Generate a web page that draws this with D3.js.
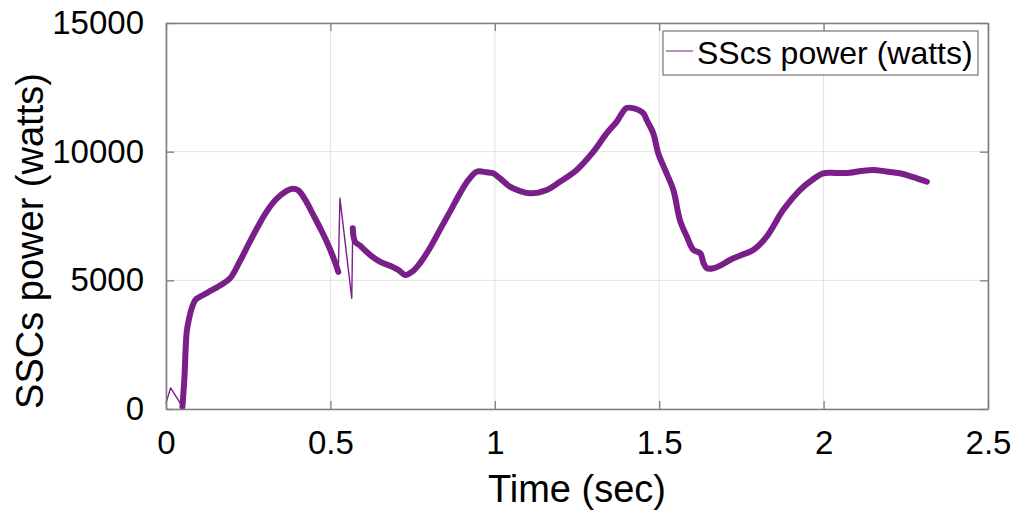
<!DOCTYPE html>
<html>
<head>
<meta charset="utf-8">
<script src="https://cdn.jsdelivr.net/npm/d3@7"></script>
<style>
  html, body { margin: 0; padding: 0; background: #fff; }
  svg { display: block; font-family: "Liberation Sans", Arial, sans-serif; }
</style>
</head>
<body>
<svg id="chart" width="1018" height="517"></svg>
<script>
// ---- data ----
const timeSec = [0, 0.014, 0.05, 0.056, 0.063, 0.07, 0.078, 0.09, 0.103, 0.13, 0.164, 0.195,
  0.225, 0.255, 0.28, 0.306, 0.335, 0.367, 0.385, 0.402, 0.425, 0.448, 0.47, 0.489, 0.51, 0.524,
  0.529, 0.565, 0.568, 0.575, 0.59, 0.61, 0.635, 0.661, 0.685, 0.707, 0.727, 0.75, 0.772, 0.80,
  0.833, 0.865, 0.894, 0.92, 0.945, 0.975, 0.995, 1.016, 1.046, 1.075, 1.107, 1.158, 1.198, 1.249,
  1.30, 1.34, 1.371, 1.40, 1.42, 1.452, 1.462, 1.482, 1.497, 1.518, 1.543, 1.563, 1.584, 1.604,
  1.625, 1.635, 1.645, 1.665, 1.69, 1.715, 1.75, 1.786, 1.827, 1.877, 1.928, 1.965, 1.999, 2.04,
  2.08, 2.115, 2.151, 2.19, 2.232, 2.27, 2.314];
const powerW = [230, 820, 90, 1200, 3000, 3500, 3910, 4250, 4360, 4550, 4800, 5080,
  5750, 6500, 7100, 7670, 8150, 8480, 8560, 8500, 8100, 7540, 7000, 6500, 5850, 5330,
  8190, 4300, 7020, 6500, 6350, 6110, 5850, 5660, 5550, 5400, 5210, 5350, 5660, 6200,
  6960, 7700, 8380, 8900, 9220, 9200, 9160, 8960, 8640, 8480, 8380, 8510, 8830, 9290,
  10000, 10710, 11170, 11690, 11690, 11490, 11230, 10710, 9940, 9290, 8510, 7340, 6700, 6180,
  6050, 5660, 5470, 5470, 5600, 5790, 5980, 6180, 6700, 7730, 8510, 8900, 9160, 9170,
  9180, 9250, 9290, 9230, 9160, 9020, 8830];
const xTicks = [0, 0.5, 1, 1.5, 2, 2.5];
const xTickLabels = ["0", "0.5", "1", "1.5", "2", "2.5"];
const yTicks = [0, 5000, 10000, 15000];
const yTickLabels = ["0", "5000", "10000", "15000"];
const seriesName = "SScs power (watts)";
const xTitle = "Time (sec)";
const yTitle = "SSCs power (watts)";

// ---- layout ----
const L = 166, R = 988, T = 23, B = 409;
const lineColor = "#7a1f89";
const axisColor = "#7f7f7f";
const gridColor = "#e2e2e2";

const svg = d3.select("#chart");
const x = d3.scaleLinear().domain([0, 2.5]).range([L, R]);
const y = d3.scaleLinear().domain([0, 15000]).range([B, T]);

const data = timeSec.map((t, i) => ({ t, p: powerW[i] }));

// grid
const g = svg.append("g");
g.selectAll(".gx").data(xTicks).join("line")
  .attr("x1", d => x(d)).attr("x2", d => x(d)).attr("y1", T).attr("y2", B)
  .attr("stroke", gridColor).attr("stroke-width", 1);
g.selectAll(".gy").data(yTicks).join("line")
  .attr("x1", L).attr("x2", R).attr("y1", d => y(d)).attr("y2", d => y(d))
  .attr("stroke", gridColor).attr("stroke-width", 1);

// series: thin trace for transient jumps, thick band for the noisy steady trace
const thinLine = d3.line().x(d => x(d.t)).y(d => y(d.p));
svg.append("path").datum(data).attr("d", thinLine)
  .attr("fill", "none").attr("stroke", lineColor).attr("stroke-width", 1.4)
  .attr("stroke-linejoin", "round");
const isTransient = d => d.t < 0.05 || (d.t > 0.525 && d.t < 0.566);
const bandLine = d3.line().defined(d => !isTransient(d)).x(d => x(d.t)).y(d => y(d.p))
  .curve(d3.curveCatmullRom.alpha(0.5));
svg.append("path").datum(data).attr("d", bandLine)
  .attr("fill", "none").attr("stroke", lineColor).attr("stroke-width", 6)
  .attr("stroke-linejoin", "round").attr("stroke-linecap", "round");

// axes (box with inward ticks on all sides)
const tickLen = 8;
const fontTick = 33;
const axB = svg.append("g").attr("transform", `translate(0,${B})`)
  .call(d3.axisBottom(x).tickValues(xTicks).tickFormat((d, i) => xTickLabels[i])
    .tickSizeInner(-tickLen).tickSizeOuter(0).tickPadding(tickLen + 14));
const axT = svg.append("g").attr("transform", `translate(0,${T})`)
  .call(d3.axisTop(x).tickValues(xTicks).tickFormat("").tickSizeInner(-tickLen).tickSizeOuter(0));
const axL = svg.append("g").attr("transform", `translate(${L},0)`)
  .call(d3.axisLeft(y).tickValues(yTicks).tickFormat((d, i) => yTickLabels[i])
    .tickSizeInner(-tickLen).tickSizeOuter(0).tickPadding(tickLen + 14));
const axR = svg.append("g").attr("transform", `translate(${R},0)`)
  .call(d3.axisRight(y).tickValues(yTicks).tickFormat("").tickSizeInner(-tickLen).tickSizeOuter(0));
[axB, axT, axL, axR].forEach(a => {
  a.select(".domain").attr("stroke", axisColor).attr("stroke-width", 1.6);
  a.selectAll(".tick line").attr("stroke", axisColor).attr("stroke-width", 1.3);
  a.selectAll("text").attr("fill", "#000").attr("font-size", fontTick)
    .attr("font-family", "'Liberation Sans', Arial, sans-serif");
});
axB.selectAll("text").attr("dy", "0.71em");

// axis titles
svg.append("text").attr("x", (L + R) / 2).attr("y", 502).attr("text-anchor", "middle")
  .attr("font-size", 38).attr("fill", "#000").text(xTitle);
svg.append("text").attr("transform", `translate(43,${241}) rotate(-90)`)
  .attr("text-anchor", "middle").attr("font-size", 38).attr("fill", "#000").text(yTitle);

// legend
const lg = svg.append("g");
lg.append("rect").attr("x", 663).attr("y", 31).attr("width", 315).attr("height", 44)
  .attr("fill", "#fff").attr("stroke", axisColor).attr("stroke-width", 1.3);
lg.append("line").attr("x1", 666).attr("x2", 693).attr("y1", 51).attr("y2", 51)
  .attr("stroke", lineColor).attr("stroke-width", 1);
lg.append("text").attr("x", 697).attr("y", 64).attr("font-size", 32).attr("fill", "#000")
  .text(seriesName);
</script>
</body>
</html>
